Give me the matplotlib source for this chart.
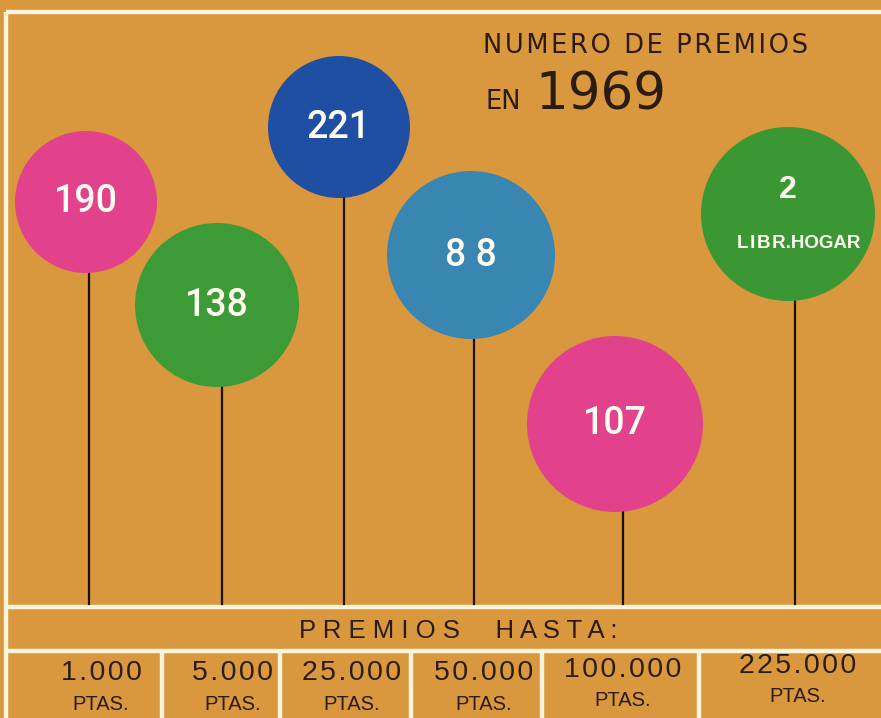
import matplotlib
matplotlib.use("Agg")
import matplotlib.pyplot as plt
from matplotlib.patches import Circle

# ---- data ----
categories = ["1.000", "5.000", "25.000", "50.000", "100.000", "225.000"]
prizes = [190, 138, 221, 88, 107, 2]
prize_labels = ["190", "138", "221", "8 8", "107", "2"]
extra_note = ["", "", "", "", "", "LIBR.HOGAR"]
unit = "PTAS."
title_line1 = "NUMERO DE PREMIOS"
title_en = "EN"
title_year = "1969"
footer_title = "PREMIOS  HASTA:"

# ---- layout (pixel coordinates) ----
balloon_x = [86, 217, 339, 471, 615, 788]
balloon_y = [202, 305, 127, 255, 424, 214]
balloon_r = [71, 82, 71, 84, 88, 87]
string_x = [89, 222, 344, 474, 623, 795]
balloon_colors = ["#E2418B", "#3C9B37", "#1E4FA3", "#3A86B3", "#E2418B", "#3A9734"]
cell_edges = [6, 162, 280, 411, 542, 699, 881]
cat_text_x = [101, 233, 352, 484, 623, 798]
cat_text_y = [673, 673, 673, 673, 670, 666]
unit_text_y = [704, 704, 704, 704, 700, 696]

bg = "#DA983E"
white = "#FBF3DC"
ink = "#2A1C12"
balloon_text = "#FFFDF0"

HAIR = "\u200a"


def spaced(s, sep):
    return sep.join(list(s))


W, H = 881, 718
fig = plt.figure(figsize=(W / 100, H / 100), dpi=100, facecolor=bg)
ax = fig.add_axes([0, 0, 1, 1])
ax.set_xlim(0, W)
ax.set_ylim(H, 0)
ax.set_aspect("equal")
ax.axis("off")
ax.add_patch(plt.Rectangle((0, 0), W, H, color=bg, zorder=0))

# frame
lw_frame = 3.2
ax.plot([6, W], [12, 12], color=white, lw=lw_frame, solid_capstyle="butt", zorder=1)
ax.plot([6, 6], [12, H], color=white, lw=lw_frame, solid_capstyle="butt", zorder=1)
ax.plot([6, W], [607, 607], color=white, lw=lw_frame, solid_capstyle="butt", zorder=1)
ax.plot([6, W], [651, 651], color=white, lw=lw_frame, solid_capstyle="butt", zorder=1)
for xe in cell_edges[1:-1]:
    ax.plot([xe, xe], [651, H], color=white, lw=lw_frame, solid_capstyle="butt", zorder=1)

# strings and balloons
for i, val in enumerate(prizes):
    cx, cy, r = balloon_x[i], balloon_y[i], balloon_r[i]
    ax.plot([string_x[i], string_x[i]], [cy + r - 2, 604], color="#1a1208", lw=1.6, zorder=2)
    ax.add_patch(Circle((cx, cy), r, facecolor=balloon_colors[i], edgecolor="none", zorder=3))
    if extra_note[i]:
        ax.text(cx, cy - 24, prize_labels[i], color=balloon_text, fontsize=23, fontweight="bold",
                family="Liberation Sans", ha="center", va="center", zorder=4)
        ax.text(cx + 11, cy + 29, spaced(extra_note[i][:4], HAIR) + extra_note[i][4:],
                color=balloon_text, fontsize=13.5, fontweight="bold",
                family="Liberation Sans", ha="center", va="center", zorder=4)
    else:
        ax.text(cx, cy, prize_labels[i], color=balloon_text, fontsize=27,
                family="Roboto", fontweight="medium", ha="center", va="center", zorder=4)

# title
ax.text(483, 53, spaced(title_line1, HAIR), color=ink, fontsize=18.5, family="DejaVu Sans",
        ha="left", va="baseline")
ax.text(486, 109, title_en, color=ink, fontsize=18.5, family="DejaVu Sans",
        ha="left", va="baseline")
ax.text(535, 109, title_year, color=ink, fontsize=37, family="DejaVu Sans",
        ha="left", va="baseline")

# footer
ax.text(458, 631, spaced(footer_title, " "), color=ink, fontsize=18.5, family="Liberation Sans",
        ha="center", va="center")
for i, c in enumerate(categories):
    ax.text(cat_text_x[i], cat_text_y[i], spaced(c, HAIR), color=ink, fontsize=20.5,
            family="Liberation Sans", ha="center", va="center")
    ax.text(cat_text_x[i], unit_text_y[i], unit, color=ink, fontsize=14.5,
            family="Liberation Sans", ha="center", va="center")

fig.savefig("out.png", dpi=100, facecolor=bg)
